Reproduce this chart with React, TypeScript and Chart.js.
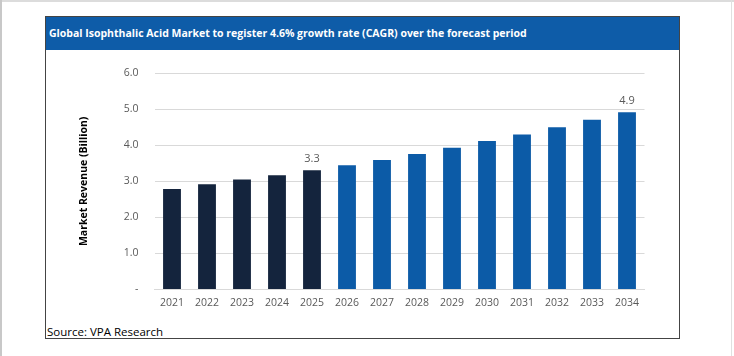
import React, { useEffect, useRef } from "react";
import { Chart, registerables } from "chart.js";

Chart.register(...registerables);

const years = ["2021", "2022", "2023", "2024", "2025", "2026", "2027", "2028", "2029", "2030", "2031", "2032", "2033", "2034"];
const revenue = [2.79, 2.92, 3.05, 3.17, 3.31, 3.45, 3.59, 3.76, 3.93, 4.12, 4.3, 4.5, 4.71, 4.92];
const barLabels = ["", "", "", "", "3.3", "", "", "", "", "", "", "", "", "4.9"];
const yTickLabels = ["-", "1.0", "2.0", "3.0", "4.0", "5.0", "6.0"];
const historicCount = 5;

const NAVY = "#14243d";
const BLUE = "#0c5ba7";
const FONT = "'Open Sans', 'Noto Sans', sans-serif";

const labelPlugin = {
  id: "barLabels",
  afterDatasetsDraw(chart: any) {
    const ctx = chart.ctx;
    const meta = chart.getDatasetMeta(0);
    ctx.save();
    ctx.font = `11px ${FONT}`;
    ctx.fillStyle = "#595959";
    ctx.textAlign = "center";
    ctx.textBaseline = "middle";
    meta.data.forEach((bar: any, i: number) => {
      const t = barLabels[i];
      if (t) ctx.fillText(t, bar.x, bar.y - 11);
    });
    ctx.restore();
  },
};

export default function App() {
  const ref = useRef<HTMLCanvasElement | null>(null);

  useEffect(() => {
    if (!ref.current) return;
    const chart = new Chart(ref.current, {
      type: "bar",
      data: {
        labels: years,
        datasets: [
          {
            data: revenue,
            backgroundColor: revenue.map((_, i) => (i < historicCount ? NAVY : BLUE)),
            borderWidth: 0,
            categoryPercentage: 1,
            barPercentage: 0.51,
          },
        ],
      },
      options: {
        animation: false,
        responsive: false,
        maintainAspectRatio: false,
        layout: { padding: { left: 0, right: 34.5, top: 21.8, bottom: 0 } },
        plugins: { legend: { display: false }, tooltip: { enabled: false } },
        scales: {
          x: {
            grid: { display: false, drawTicks: false },
            border: { display: true, color: "#d9d9d9", width: 1 },
            ticks: { color: "#595959", font: { family: FONT, size: 10.5 }, padding: 7, maxRotation: 0, autoSkip: false },
          },
          y: {
            min: 0,
            max: 6,
            grid: { color: "#d9d9d9", drawTicks: false },
            border: { display: false },
            ticks: {
              stepSize: 1,
              color: "#595959",
              font: { family: FONT, size: 10.5 },
              padding: 16,
              callback: (_v: any, i: number) => yTickLabels[i],
            },
            title: {
              display: true,
              text: "Market Revenue (Billion)",
              color: "#000000",
              font: { family: FONT, size: 10.5, weight: "bold" },
              padding: { top: 32, bottom: 0 },
            },
            afterFit: (axis: any) => {
              axis.width = 108.5;
            },
          },
        },
      },
      plugins: [labelPlugin],
    });
    return () => chart.destroy();
  }, []);

  return (
    <div style={{ position: "absolute", left: 0, top: 0, width: 734, height: 356, background: "#fff", overflow: "hidden" }}>
      <div style={{ position: "absolute", left: 0, top: 0, width: 734, height: 2, background: "#dcdcdc" }} />
      <div style={{ position: "absolute", left: 0, top: 0, width: 2, height: 356, background: "#c8c8c8" }} />
      <div style={{ position: "absolute", left: 731, top: 0, width: 1, height: 356, background: "#e0e0e0" }} />
      <div
        style={{
          position: "absolute",
          left: 45,
          top: 16,
          width: 633,
          height: 321,
          border: "1.5px solid #444",
          boxSizing: "content-box",
        }}
      />
      <div
        style={{
          position: "absolute",
          left: 46,
          top: 17,
          width: 633,
          height: 33,
          background: "#0e5ca8",
          color: "#fff",
          fontFamily: FONT,
          fontWeight: "bold",
          fontSize: 10.5,
          lineHeight: "33px",
          paddingLeft: 3,
          boxSizing: "border-box",
          whiteSpace: "nowrap",
        }}
      >
        Global Isophthalic Acid Market to register 4.6% growth rate (CAGR) over the forecast period
      </div>
      <canvas ref={ref} width={633} height={265} style={{ position: "absolute", left: 46, top: 51, width: 633, height: 265 }} />
      <div
        style={{
          position: "absolute",
          left: 47,
          top: 324,
          fontFamily: FONT,
          fontSize: 11.5,
          color: "#000",
          whiteSpace: "nowrap",
          lineHeight: "16px",
        }}
      >
        Source: VPA Research
      </div>
    </div>
  );
}
